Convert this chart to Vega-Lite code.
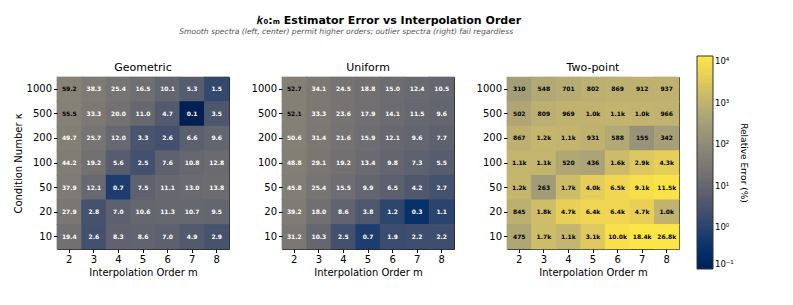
{
  "$schema": "https://vega.github.io/schema/vega-lite/v6.json",
  "background": "white",
  "padding": {"left": 12, "top": 14, "right": 5, "bottom": 5},
  "title": {
    "text": "𝑘₀:ₘ Estimator Error vs Interpolation Order",
    "fontSize": 11, "fontWeight": "bold", "font": "DejaVu Sans", "color": "black",
    "anchor": "middle", "offset": 2, "dx": 9
  },
  "datasets": {
    "d": [
      {"s":"Geometric","k":1000,"m":2,"v":59.2},{"s":"Geometric","k":1000,"m":3,"v":38.3},{"s":"Geometric","k":1000,"m":4,"v":25.4},{"s":"Geometric","k":1000,"m":5,"v":16.5},{"s":"Geometric","k":1000,"m":6,"v":10.1},{"s":"Geometric","k":1000,"m":7,"v":5.3},{"s":"Geometric","k":1000,"m":8,"v":1.5},
      {"s":"Geometric","k":500,"m":2,"v":55.5},{"s":"Geometric","k":500,"m":3,"v":33.3},{"s":"Geometric","k":500,"m":4,"v":20.0},{"s":"Geometric","k":500,"m":5,"v":11.0},{"s":"Geometric","k":500,"m":6,"v":4.7},{"s":"Geometric","k":500,"m":7,"v":0.1},{"s":"Geometric","k":500,"m":8,"v":3.5},
      {"s":"Geometric","k":200,"m":2,"v":49.7},{"s":"Geometric","k":200,"m":3,"v":25.7},{"s":"Geometric","k":200,"m":4,"v":12.0},{"s":"Geometric","k":200,"m":5,"v":3.3},{"s":"Geometric","k":200,"m":6,"v":2.6},{"s":"Geometric","k":200,"m":7,"v":6.6},{"s":"Geometric","k":200,"m":8,"v":9.6},
      {"s":"Geometric","k":100,"m":2,"v":44.2},{"s":"Geometric","k":100,"m":3,"v":19.2},{"s":"Geometric","k":100,"m":4,"v":5.6},{"s":"Geometric","k":100,"m":5,"v":2.5},{"s":"Geometric","k":100,"m":6,"v":7.6},{"s":"Geometric","k":100,"m":7,"v":10.8},{"s":"Geometric","k":100,"m":8,"v":12.8},
      {"s":"Geometric","k":50,"m":2,"v":37.9},{"s":"Geometric","k":50,"m":3,"v":12.1},{"s":"Geometric","k":50,"m":4,"v":0.7},{"s":"Geometric","k":50,"m":5,"v":7.5},{"s":"Geometric","k":50,"m":6,"v":11.1},{"s":"Geometric","k":50,"m":7,"v":13.0},{"s":"Geometric","k":50,"m":8,"v":13.8},
      {"s":"Geometric","k":20,"m":2,"v":27.9},{"s":"Geometric","k":20,"m":3,"v":2.8},{"s":"Geometric","k":20,"m":4,"v":7.0},{"s":"Geometric","k":20,"m":5,"v":10.6},{"s":"Geometric","k":20,"m":6,"v":11.3},{"s":"Geometric","k":20,"m":7,"v":10.7},{"s":"Geometric","k":20,"m":8,"v":9.5},
      {"s":"Geometric","k":10,"m":2,"v":19.4},{"s":"Geometric","k":10,"m":3,"v":2.6},{"s":"Geometric","k":10,"m":4,"v":8.3},{"s":"Geometric","k":10,"m":5,"v":8.6},{"s":"Geometric","k":10,"m":6,"v":7.0},{"s":"Geometric","k":10,"m":7,"v":4.9},{"s":"Geometric","k":10,"m":8,"v":2.9},

      {"s":"Uniform","k":1000,"m":2,"v":52.7},{"s":"Uniform","k":1000,"m":3,"v":34.1},{"s":"Uniform","k":1000,"m":4,"v":24.5},{"s":"Uniform","k":1000,"m":5,"v":18.8},{"s":"Uniform","k":1000,"m":6,"v":15.0},{"s":"Uniform","k":1000,"m":7,"v":12.4},{"s":"Uniform","k":1000,"m":8,"v":10.5},
      {"s":"Uniform","k":500,"m":2,"v":52.1},{"s":"Uniform","k":500,"m":3,"v":33.3},{"s":"Uniform","k":500,"m":4,"v":23.6},{"s":"Uniform","k":500,"m":5,"v":17.9},{"s":"Uniform","k":500,"m":6,"v":14.1},{"s":"Uniform","k":500,"m":7,"v":11.5},{"s":"Uniform","k":500,"m":8,"v":9.6},
      {"s":"Uniform","k":200,"m":2,"v":50.6},{"s":"Uniform","k":200,"m":3,"v":31.4},{"s":"Uniform","k":200,"m":4,"v":21.6},{"s":"Uniform","k":200,"m":5,"v":15.9},{"s":"Uniform","k":200,"m":6,"v":12.1},{"s":"Uniform","k":200,"m":7,"v":9.6},{"s":"Uniform","k":200,"m":8,"v":7.7},
      {"s":"Uniform","k":100,"m":2,"v":48.8},{"s":"Uniform","k":100,"m":3,"v":29.1},{"s":"Uniform","k":100,"m":4,"v":19.2},{"s":"Uniform","k":100,"m":5,"v":13.4},{"s":"Uniform","k":100,"m":6,"v":9.8},{"s":"Uniform","k":100,"m":7,"v":7.3},{"s":"Uniform","k":100,"m":8,"v":5.5},
      {"s":"Uniform","k":50,"m":2,"v":45.8},{"s":"Uniform","k":50,"m":3,"v":25.4},{"s":"Uniform","k":50,"m":4,"v":15.5},{"s":"Uniform","k":50,"m":5,"v":9.9},{"s":"Uniform","k":50,"m":6,"v":6.5},{"s":"Uniform","k":50,"m":7,"v":4.2},{"s":"Uniform","k":50,"m":8,"v":2.7},
      {"s":"Uniform","k":20,"m":2,"v":39.2},{"s":"Uniform","k":20,"m":3,"v":18.0},{"s":"Uniform","k":20,"m":4,"v":8.6},{"s":"Uniform","k":20,"m":5,"v":3.8},{"s":"Uniform","k":20,"m":6,"v":1.2},{"s":"Uniform","k":20,"m":7,"v":0.3},{"s":"Uniform","k":20,"m":8,"v":1.1},
      {"s":"Uniform","k":10,"m":2,"v":31.2},{"s":"Uniform","k":10,"m":3,"v":10.3},{"s":"Uniform","k":10,"m":4,"v":2.5},{"s":"Uniform","k":10,"m":5,"v":0.7},{"s":"Uniform","k":10,"m":6,"v":1.9},{"s":"Uniform","k":10,"m":7,"v":2.2},{"s":"Uniform","k":10,"m":8,"v":2.2},

      {"s":"Two-point","k":1000,"m":2,"v":310},{"s":"Two-point","k":1000,"m":3,"v":548},{"s":"Two-point","k":1000,"m":4,"v":701},{"s":"Two-point","k":1000,"m":5,"v":802},{"s":"Two-point","k":1000,"m":6,"v":869},{"s":"Two-point","k":1000,"m":7,"v":912},{"s":"Two-point","k":1000,"m":8,"v":937},
      {"s":"Two-point","k":500,"m":2,"v":502},{"s":"Two-point","k":500,"m":3,"v":809},{"s":"Two-point","k":500,"m":4,"v":969},{"s":"Two-point","k":500,"m":5,"v":1020},{"s":"Two-point","k":500,"m":6,"v":1080},{"s":"Two-point","k":500,"m":7,"v":1040},{"s":"Two-point","k":500,"m":8,"v":966},
      {"s":"Two-point","k":200,"m":2,"v":867},{"s":"Two-point","k":200,"m":3,"v":1200},{"s":"Two-point","k":200,"m":4,"v":1100},{"s":"Two-point","k":200,"m":5,"v":931},{"s":"Two-point","k":200,"m":6,"v":588},{"s":"Two-point","k":200,"m":7,"v":155},{"s":"Two-point","k":200,"m":8,"v":342},
      {"s":"Two-point","k":100,"m":2,"v":1100},{"s":"Two-point","k":100,"m":3,"v":1100},{"s":"Two-point","k":100,"m":4,"v":520},{"s":"Two-point","k":100,"m":5,"v":436},{"s":"Two-point","k":100,"m":6,"v":1600},{"s":"Two-point","k":100,"m":7,"v":2900},{"s":"Two-point","k":100,"m":8,"v":4300},
      {"s":"Two-point","k":50,"m":2,"v":1200},{"s":"Two-point","k":50,"m":3,"v":263},{"s":"Two-point","k":50,"m":4,"v":1700},{"s":"Two-point","k":50,"m":5,"v":4000},{"s":"Two-point","k":50,"m":6,"v":6500},{"s":"Two-point","k":50,"m":7,"v":9100},{"s":"Two-point","k":50,"m":8,"v":11500},
      {"s":"Two-point","k":20,"m":2,"v":845},{"s":"Two-point","k":20,"m":3,"v":1800},{"s":"Two-point","k":20,"m":4,"v":4700},{"s":"Two-point","k":20,"m":5,"v":6400},{"s":"Two-point","k":20,"m":6,"v":6400},{"s":"Two-point","k":20,"m":7,"v":4700},{"s":"Two-point","k":20,"m":8,"v":1000},
      {"s":"Two-point","k":10,"m":2,"v":475},{"s":"Two-point","k":10,"m":3,"v":1700},{"s":"Two-point","k":10,"m":4,"v":1100},{"s":"Two-point","k":10,"m":5,"v":3100},{"s":"Two-point","k":10,"m":6,"v":10000},{"s":"Two-point","k":10,"m":7,"v":18400},{"s":"Two-point","k":10,"m":8,"v":26800}
    ]
  },
  "vconcat": [
    {
      "title": {"text": "Smooth spectra (left, center) permit higher orders; outlier spectra (right) fail regardless", "fontSize": 7.6, "fontStyle": "italic", "fontWeight": "normal", "color": "#555555", "anchor": "middle", "offset": 26},
      "spacing": 20,
      "hconcat": [
        {
          "width": 172, "height": 172,
          "title": {"text": "Geometric", "fontSize": 11, "fontWeight": "normal", "offset": 4},
          "data": {"name": "d"},
          "transform": [
            {"filter": "datum.s === 'Geometric'"},
            {"calculate": "datum.v >= 999.5 ? format(datum.v/1000, '.1f') + 'k' : (datum.v >= 100 ? format(datum.v, '.0f') : format(datum.v, '.1f'))", "as": "lab"}
          ],
          "encoding": {
            "x": {"field": "m", "type": "ordinal", "title": "Interpolation Order m", "axis": {"labelAngle": 0}, "scale": {"paddingInner": 0, "paddingOuter": 0}},
            "y": {"field": "k", "type": "ordinal", "sort": "descending", "title": "Condition Number κ", "scale": {"paddingInner": 0, "paddingOuter": 0}}
          },
          "layer": [
            {"mark": {"type": "rect", "width": {"band": 1.03}, "height": {"band": 1.03}}, "encoding": {
              "color": {"field": "v", "type": "quantitative", "title": "Relative Error (%)",
                "scale": {"type": "log", "domain": [0.1, 13500], "scheme": "cividis", "clamp": true},
                "legend": {"type": "gradient", "orient": "none", "legendX": 640, "legendY": -21, "values": [0.1, 1, 10, 100, 1000, 10000], "labelExpr": "datum.value < 0.5 ? '10⁻¹' : datum.value < 5 ? '10⁰' : datum.value < 50 ? '10¹' : datum.value < 500 ? '10²' : datum.value < 5000 ? '10³' : '10⁴'"}}}},
            {"mark": {"type": "text", "fontSize": 6, "fontWeight": "bold", "font": "DejaVu Sans"}, "encoding": {"text": {"field": "lab"}, "color": {"condition": {"test": "datum.v > 51", "value": "black"}, "value": "white"}}}
          ]
        },
        {
          "width": 172, "height": 172,
          "title": {"text": "Uniform", "fontSize": 11, "fontWeight": "normal", "offset": 4},
          "data": {"name": "d"},
          "transform": [
            {"filter": "datum.s === 'Uniform'"},
            {"calculate": "datum.v >= 999.5 ? format(datum.v/1000, '.1f') + 'k' : (datum.v >= 100 ? format(datum.v, '.0f') : format(datum.v, '.1f'))", "as": "lab"}
          ],
          "encoding": {
            "x": {"field": "m", "type": "ordinal", "title": "Interpolation Order m", "axis": {"labelAngle": 0}, "scale": {"paddingInner": 0, "paddingOuter": 0}},
            "y": {"field": "k", "type": "ordinal", "sort": "descending", "title": null, "scale": {"paddingInner": 0, "paddingOuter": 0}}
          },
          "layer": [
            {"mark": {"type": "rect", "width": {"band": 1.03}, "height": {"band": 1.03}}, "encoding": {
              "color": {"field": "v", "type": "quantitative", "title": "Relative Error (%)"}}},
            {"mark": {"type": "text", "fontSize": 6, "fontWeight": "bold", "font": "DejaVu Sans"}, "encoding": {"text": {"field": "lab"}, "color": {"condition": {"test": "datum.v > 51", "value": "black"}, "value": "white"}}}
          ]
        },
        {
          "width": 172, "height": 172,
          "title": {"text": "Two-point", "fontSize": 11, "fontWeight": "normal", "offset": 4},
          "data": {"name": "d"},
          "transform": [
            {"filter": "datum.s === 'Two-point'"},
            {"calculate": "datum.v >= 999.5 ? format(datum.v/1000, '.1f') + 'k' : (datum.v >= 100 ? format(datum.v, '.0f') : format(datum.v, '.1f'))", "as": "lab"}
          ],
          "encoding": {
            "x": {"field": "m", "type": "ordinal", "title": "Interpolation Order m", "axis": {"labelAngle": 0}, "scale": {"paddingInner": 0, "paddingOuter": 0}},
            "y": {"field": "k", "type": "ordinal", "sort": "descending", "title": null, "scale": {"paddingInner": 0, "paddingOuter": 0}}
          },
          "layer": [
            {"mark": {"type": "rect", "width": {"band": 1.03}, "height": {"band": 1.03}}, "encoding": {
              "color": {"field": "v", "type": "quantitative", "title": "Relative Error (%)"}}},
            {"mark": {"type": "text", "fontSize": 6, "fontWeight": "bold", "font": "DejaVu Sans"}, "encoding": {"text": {"field": "lab"}, "color": {"condition": {"test": "datum.v > 51", "value": "black"}, "value": "white"}}}
          ]
        }
      ]
    }
  ],
  "resolve": {"scale": {"color": "shared"}},
  "config": {
    "font": "DejaVu Sans",
    "view": {"stroke": "#222222", "strokeWidth": 1},
    "axis": {"labelFontSize": 10, "titleFontSize": 10, "titleFontWeight": "normal", "labelColor": "black", "titleColor": "black", "tickColor": "black", "tickSize": 3.5, "domain": false, "grid": false, "labelPadding": 2, "titlePadding": 3, "labelFont": "DejaVu Sans", "titleFont": "DejaVu Sans"},
    "legend": {"gradientLength": 213, "gradientThickness": 16, "labelFontSize": 8.5, "titleFontSize": 9, "titleFontWeight": "normal", "titleOrient": "right", "titleAngle": 270, "titleAnchor": "middle", "labelColor": "black", "titleColor": "black", "gradientStrokeColor": "#333333", "gradientStrokeWidth": 1}
  }
}
